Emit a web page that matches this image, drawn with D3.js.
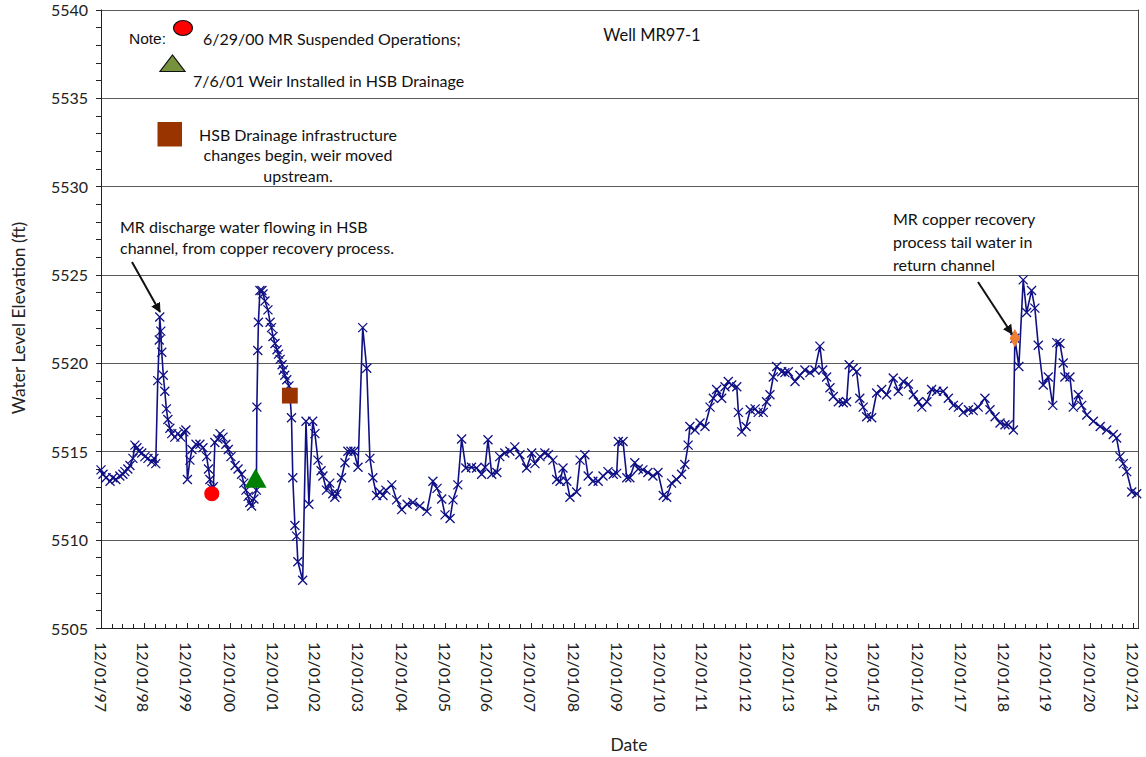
<!DOCTYPE html>
<html>
<head>
<meta charset="utf-8">
<title>Well MR97-1</title>
<script src="https://cdn.jsdelivr.net/npm/d3@7/dist/d3.min.js"></script>
<style>
  body { margin: 0; background: #fff; }
  svg { display: block; font-family: Lato, "Noto Sans", sans-serif; }
  .tick-label { font-size: 16px; fill: #222; }
  .note { font-size: 16px; fill: #111; }
</style>
</head>
<body>
<svg id="chart" width="1146" height="757"></svg>
<script>
// sample dates (m/d/yy) and water levels (ft)
const dates = [
  "12/1/97","12/18/97","1/13/98","2/16/98","3/11/98","4/6/98","5/10/98","6/5/98","6/22/98","7/17/98",
  "8/4/98","8/29/98","9/15/98","10/2/98","10/19/98","11/12/98","12/9/98","1/4/99","2/5/99","2/24/99",
  "3/11/99","3/28/99","4/10/99","4/14/99","4/23/99","5/1/99","5/14/99","5/27/99","6/9/99","6/22/99",
  "7/9/99","7/25/99","8/20/99","9/15/99","10/10/99","11/5/99","11/22/99","12/5/99","12/26/99","1/13/00",
  "2/16/00","3/20/00","4/15/00","5/16/00","6/1/00","6/13/00","6/30/00","7/13/00","7/25/00","8/20/00",
  "9/7/00","10/2/00","10/27/00","11/16/00","12/9/00","1/13/01","2/7/01","3/9/01","3/28/01","4/15/01",
  "5/4/01","5/18/01","6/2/01","6/22/01","7/13/01","7/17/01","7/25/01","7/30/01","8/12/01","8/29/01",
  "9/7/01","9/24/01","10/19/01","11/6/01","11/18/01","12/1/01","12/18/01","1/4/02","1/17/02","1/30/02",
  "2/16/02","2/27/02","3/11/02","3/28/02","4/15/02","4/23/02","5/7/02","5/18/02","6/5/02","6/19/02",
  "6/30/02","8/10/02","9/7/02","10/2/02","11/3/02","11/22/02","12/18/02","1/13/03","1/29/03","2/28/03",
  "3/28/03","4/23/03","5/10/03","5/27/03","7/6/03","8/4/03","8/29/03","9/24/03","10/19/03","11/23/03",
  "1/2/04","2/5/04","3/3/04","3/28/04","4/29/04","5/27/04","6/22/04","7/17/04","9/5/04","10/16/04",
  "11/28/04","1/13/05","3/3/05","5/1/05","6/30/05","8/20/05","9/24/05","11/3/05","12/1/05","1/13/06",
  "2/7/06","3/20/06","4/21/06","5/27/06","7/14/06","8/26/06","10/8/06","11/6/06","12/1/06","1/2/07",
  "2/14/07","3/11/07","4/23/07","6/5/07","7/17/07","8/29/07","10/25/07","12/7/07","1/4/08","2/16/08",
  "3/28/08","4/26/08","6/5/08","7/6/08","8/4/08","8/29/08","9/30/08","10/27/08","12/23/08","1/21/09",
  "3/3/09","3/31/09","5/10/09","6/24/09","8/4/09","9/15/09","10/30/09","11/28/09","12/12/09","1/21/10",
  "2/22/10","3/20/10","5/1/10","5/30/10","7/9/10","8/20/10","10/2/10","11/14/10","12/29/10","1/27/11",
  "3/9/11","4/21/11","6/2/11","6/30/11","7/28/11","8/12/11","9/24/11","11/6/11","12/18/11","1/30/12",
  "2/27/12","3/26/12","5/8/12","6/5/12","7/3/12","8/1/12","9/13/12","9/27/12","10/25/12","12/1/12",
  "1/5/13","2/16/13","3/14/13","4/26/13","5/24/13","6/22/13","7/20/13","8/18/13","9/30/13","10/27/13",
  "11/25/13","1/21/14","3/3/14","4/15/14","5/27/14","7/9/14","8/20/14","9/13/14","10/16/14","11/14/14",
  "12/12/14","1/24/15","3/6/15","4/4/15","4/26/15","5/30/15","6/28/15","7/25/15","8/23/15","9/21/15",
  "11/3/15","12/15/15","1/27/16","3/9/16","5/4/16","6/16/16","7/28/16","9/10/16","10/22/16","12/4/16",
  "1/2/17","2/14/17","3/26/17","5/8/17","7/3/17","8/15/17","9/27/17","11/9/17","12/20/17","2/2/18",
  "3/14/18","4/26/18","6/22/18","8/4/18","9/16/18","10/28/18","12/9/18","1/7/19","2/19/19","3/3/19",
  "4/6/19","5/13/19","6/11/19","7/23/19","8/20/19","9/18/19","10/30/19","12/12/19","1/19/20","2/22/20",
  "3/20/20","4/17/20","5/1/20","6/13/20","7/11/20","8/23/20","9/21/20","11/3/20","12/29/20","2/25/21",
  "4/21/21","6/16/21","7/14/21","8/12/21","9/9/21","10/8/21","11/20/21","1/1/22"
];
const levels = [
  5513.95,5513.7,5513.5,5513.3,5513.5,5513.4,5513.6,5513.7,5513.85,5514.0,
  5514.2,5514.6,5515.35,5515.2,5515.0,5514.9,5514.7,5514.6,5514.4,5514.6,
  5514.3,5519.0,5521.3,5522.6,5521.8,5520.6,5519.3,5518.4,5517.4,5516.8,
  5516.3,5516.0,5515.8,5516.0,5515.8,5516.1,5516.2,5513.4,5514.5,5515.1,
  5515.4,5515.4,5515.2,5514.7,5514.0,5513.4,5512.9,5513.0,5515.5,5515.7,
  5516.0,5515.8,5515.4,5515.1,5514.7,5514.2,5514.0,5513.7,5513.2,5512.8,
  5512.45,5512.1,5511.9,5512.3,5512.8,5517.5,5520.7,5522.3,5524.1,5524.1,
  5523.9,5523.5,5523.0,5522.3,5522.0,5521.5,5521.1,5520.75,5520.5,5520.2,
  5519.9,5519.6,5519.3,5519.05,5518.7,5518.3,5516.9,5513.5,5510.8,5510.2,
  5508.75,5507.7,5516.7,5512.0,5516.7,5516.0,5514.5,5513.9,5513.6,5512.8,
  5513.2,5512.6,5512.4,5512.6,5513.5,5514.35,5515.0,5515.0,5515.0,5514.1,
  5522.0,5519.7,5514.6,5513.5,5512.5,5512.7,5512.5,5512.8,5513.1,5512.25,
  5511.7,5512.0,5512.1,5511.9,5511.6,5513.3,5512.9,5512.3,5511.4,5511.2,
  5512.25,5513.1,5515.7,5514.05,5514.1,5514.05,5513.7,5514.1,5515.65,5513.7,
  5513.8,5514.7,5514.9,5515.0,5515.25,5514.8,5514.05,5514.9,5514.3,5514.7,
  5514.9,5514.8,5514.5,5513.4,5513.3,5514.05,5513.3,5512.4,5512.7,5514.5,
  5514.8,5513.6,5513.3,5513.3,5513.6,5513.85,5513.7,5513.75,5515.55,5515.55,
  5513.5,5513.5,5514.35,5514.0,5513.95,5513.8,5513.6,5513.8,5512.5,5512.4,
  5513.2,5513.4,5513.7,5514.25,5515.35,5516.4,5516.2,5516.6,5516.4,5517.5,
  5518.0,5518.5,5518.0,5518.65,5518.95,5518.75,5518.65,5517.2,5516.1,5516.4,
  5517.35,5517.4,5517.2,5517.2,5517.8,5518.2,5519.2,5519.8,5519.5,5519.45,
  5519.5,5518.95,5519.3,5519.6,5519.45,5519.6,5520.95,5519.6,5519.2,5518.6,
  5518.1,5517.8,5517.75,5517.8,5519.9,5519.7,5519.5,5518.0,5517.5,5516.95,
  5516.9,5518.3,5518.5,5518.2,5519.15,5518.4,5518.95,5518.8,5518.2,5517.8,
  5517.5,5517.8,5518.5,5518.4,5518.4,5518.0,5517.6,5517.5,5517.2,5517.35,
  5517.3,5517.5,5518.0,5517.35,5516.95,5516.6,5516.5,5516.5,5516.2,5521.4,
  5519.8,5524.7,5522.85,5524.1,5523.1,5521.0,5518.75,5519.2,5517.6,5521.15,
  5521.1,5520.0,5519.2,5519.2,5517.5,5518.2,5517.6,5517.05,5516.7,5516.4,
  5516.2,5515.95,5515.75,5514.7,5514.3,5513.85,5512.7,5512.6
];

// event markers on the line
const eventDates  = ["6/29/00", "7/6/01", "4/23/02", "3/3/19"];
const eventLevels = [5512.6, 5513.3, 5518.15, 5521.4];
const eventShapes = ["circle", "triangle", "square", "diamond"];
const eventColors = ["#ff0000", "#008000", "#993300", "#ed7d31"];

const yTicks = [5505, 5510, 5515, 5520, 5525, 5530, 5535, 5540];
const xStart = "12/1/97", xEnd = "1/12/22";

const parse = d3.timeParse("%m/%d/%y");
const fmt = d3.timeFormat("%m/%d/%y");

const svg = d3.select("#chart");
const pL = 101, pR = 1138, pT = 9.5, pB = 628;

const x = d3.scaleTime().domain([parse(xStart), parse(xEnd)]).range([pL, pR]);
const y = d3.scaleLinear().domain([5505, 5540]).range([pB, pT]);

const data = dates.map((d, i) => ({ date: parse(d), v: levels[i] }));

// gridlines
svg.append("g").selectAll("line").data(yTicks.slice(1)).join("line")
  .attr("x1", pL).attr("x2", pR)
  .attr("y1", d => Math.round(y(d)) + 0.5).attr("y2", d => Math.round(y(d)) + 0.5)
  .attr("stroke", "#5a5a5a").attr("stroke-width", 1);

// right border
svg.append("line").attr("x1", pR + 0.5).attr("x2", pR + 0.5)
  .attr("y1", pT).attr("y2", pB).attr("stroke", "#444");

// y axis
const yMinor = d3.range(5505, 5541, 1);
svg.append("g").selectAll("line").data(yMinor).join("line")
  .attr("x1", pL - 5).attr("x2", pL)
  .attr("y1", d => Math.round(y(d)) + 0.5).attr("y2", d => Math.round(y(d)) + 0.5)
  .attr("stroke", "#222");
svg.append("line").attr("x1", pL + 0.5).attr("x2", pL + 0.5)
  .attr("y1", pT).attr("y2", pB + 0.5).attr("stroke", "#222");
svg.append("g").selectAll("text").data(yTicks).join("text")
  .attr("class", "tick-label")
  .attr("x", 88).attr("y", d => y(d))
  .attr("text-anchor", "end").attr("dominant-baseline", "central")
  .text(d => d);

// x axis
const allMonths = d3.timeMonth.range(parse(xStart), parse(xEnd), 3);
const majors = d3.timeMonth.range(parse(xStart), parse(xEnd), 12);
svg.append("line").attr("x1", pL).attr("x2", pR + 1)
  .attr("y1", pB + 0.5).attr("y2", pB + 0.5).attr("stroke", "#222");
svg.append("g").selectAll("line").data(allMonths).join("line")
  .attr("x1", d => Math.round(x(d)) + 0.5).attr("x2", d => Math.round(x(d)) + 0.5)
  .attr("y1", pB).attr("y2", d => d.getMonth() === 11 ? pB - 5 : pB - 4)
  .attr("stroke", "#222");
svg.append("g").selectAll("text").data(majors).join("text")
  .attr("class", "tick-label")
  .attr("transform", d => `translate(${x(d)},642) rotate(90)`)
  .attr("dominant-baseline", "central")
  .text(d => fmt(d));

// axis titles
svg.append("text").attr("transform", "translate(18,318) rotate(-90)")
  .attr("text-anchor", "middle").attr("dominant-baseline", "central")
  .style("font-size", "17.5px").attr("fill", "#222")
  .text("Water Level Elevation (ft)");
svg.append("text").attr("x", 629).attr("y", 744)
  .attr("text-anchor", "middle").attr("dominant-baseline", "central")
  .style("font-size", "17.5px").attr("fill", "#222")
  .text("Date");
svg.append("text").attr("x", 652).attr("y", 35)
  .attr("text-anchor", "middle").attr("dominant-baseline", "central")
  .style("font-size", "16.5px").attr("fill", "#111")
  .text("Well MR97-1");

// series line + x markers
const line = d3.line().x(d => x(d.date)).y(d => y(d.v));
svg.append("path").datum(data)
  .attr("d", line).attr("fill", "none")
  .attr("stroke", "#101085").attr("stroke-width", 1.6);
const crossPath = "M-4.5,-4.5L4.5,4.5M-4.5,4.5L4.5,-4.5";
svg.append("g").selectAll("path").data(data).join("path")
  .attr("d", crossPath)
  .attr("transform", d => `translate(${x(d.date)},${y(d.v)})`)
  .attr("fill", "none").attr("stroke", "#101085").attr("stroke-width", 1.3);

// event markers
const shapeOf = { circle: d3.symbolCircle, triangle: d3.symbolTriangle, square: d3.symbolSquare, diamond: d3.symbolDiamond };
const sizeOf = { circle: 180, triangle: 210, square: 250, diamond: 95 };
svg.append("g").selectAll("path").data(eventDates).join("path")
  .attr("d", (d, i) => d3.symbol(shapeOf[eventShapes[i]], sizeOf[eventShapes[i]])())
  .attr("transform", (d, i) => `translate(${x(parse(d))},${y(eventLevels[i])})`)
  .attr("fill", (d, i) => eventColors[i]);

// note box
svg.append("text").attr("x", 129).attr("y", 38).attr("dominant-baseline", "central")
  .style("font-family", "'Liberation Sans', Arial, sans-serif").style("font-size", "15.5px")
  .attr("fill", "#111").text("Note:");
svg.append("ellipse").attr("cx", 183).attr("cy", 28).attr("rx", 9.5).attr("ry", 7.5)
  .attr("fill", "#ff0000").attr("stroke", "#111").attr("stroke-width", 1.2);
svg.append("text").attr("class", "note").attr("x", 203).attr("y", 38)
  .attr("dominant-baseline", "central").text("6/29/00 MR Suspended Operations;");
svg.append("path").attr("d", "M160,71.5L185,71.5L172.5,55Z")
  .attr("fill", "#76923c").attr("stroke", "#111").attr("stroke-width", 1.2);
svg.append("text").attr("class", "note").attr("x", 193).attr("y", 80)
  .attr("dominant-baseline", "central").text("7/6/01 Weir Installed in HSB Drainage");
svg.append("rect").attr("x", 157.5).attr("y", 122).attr("width", 24.5).attr("height", 24.5)
  .attr("fill", "#993300");
const sqText = ["HSB Drainage infrastructure", "changes begin, weir moved", "upstream."];
svg.append("g").selectAll("text").data(sqText).join("text")
  .attr("class", "note").attr("x", 298).attr("y", (d, i) => 134 + i * 20.7)
  .attr("text-anchor", "middle").attr("dominant-baseline", "central").text(d => d);

// callouts
const arrowDefs = svg.append("defs");
arrowDefs.append("marker").attr("id", "arrow").attr("viewBox", "0 0 10 10")
  .attr("refX", 9).attr("refY", 5).attr("markerWidth", 5).attr("markerHeight", 5)
  .attr("orient", "auto")
  .append("path").attr("d", "M0,0L10,5L0,10Z").attr("fill", "#111");

const leftCallout = ["MR discharge water flowing in HSB", "channel, from copper recovery process."];
svg.append("g").selectAll("text").data(leftCallout).join("text")
  .attr("class", "note").attr("x", 120).attr("y", (d, i) => 226 + i * 21)
  .attr("dominant-baseline", "central").text(d => d);
svg.append("line").attr("x1", 132).attr("y1", 262).attr("x2", 160).attr("y2", 312)
  .attr("stroke", "#111").attr("stroke-width", 2).attr("marker-end", "url(#arrow)");

const rightCallout = ["MR copper recovery", "process tail water in", "return channel"];
svg.append("g").selectAll("text").data(rightCallout).join("text")
  .attr("class", "note").attr("x", 893).attr("y", (d, i) => 218 + i * 23)
  .attr("dominant-baseline", "central").text(d => d);
svg.append("line").attr("x1", 978).attr("y1", 282).attr("x2", 1012).attr("y2", 334)
  .attr("stroke", "#111").attr("stroke-width", 2).attr("marker-end", "url(#arrow)");
</script>
</body>
</html>
